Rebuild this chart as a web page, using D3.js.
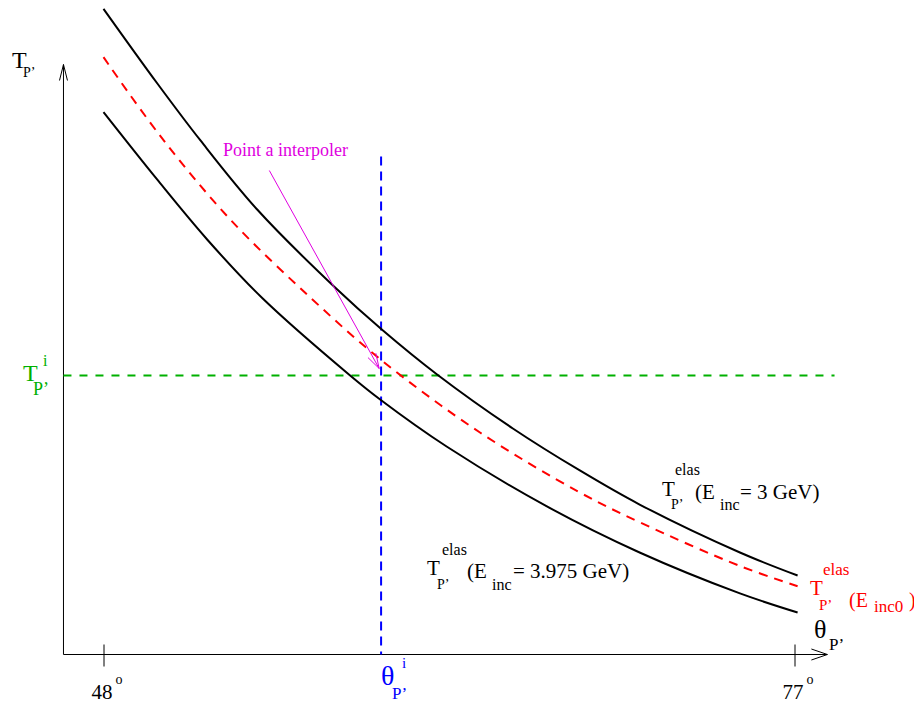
<!DOCTYPE html>
<html><head><meta charset="utf-8">
<script src="https://cdn.jsdelivr.net/npm/d3@7"></script>
<style>
html,body{margin:0;padding:0;background:#fff;}
svg{display:block;}
text{font-family:"Liberation Serif","Times New Roman",serif;}
</style>
</head><body>
<svg id="chart" width="914" height="705"></svg>
<script>
// ---------- data (theta in degrees, T in arbitrary units) ----------
const thetaTickValues = [48, 77];

// T_P'^elas (E_inc = 3 GeV) -- upper black curve
const thetaUpper = [48.00, 50.26, 52.07, 54.45, 57.72, 59.68, 62.00, 65.18, 67.99, 70.50, 74.71, 77.13];
const tUpper     = [109.44, 96.78, 87.12, 75.42, 62.20, 55.08, 47.46, 38.31, 31.19, 25.42, 17.29, 13.39];

// T_P'^elas (E_inc0) -- red dashed curve
const thetaMid = [48.00, 50.39, 53.32, 56.68, 59.68, 63.80, 67.99, 70.50, 74.71, 77.13];
const tMid     = [101.24, 87.85, 73.73, 60.51, 49.83, 37.63, 27.46, 22.42, 15.00, 11.58];

// T_P'^elas (E_inc = 3.975 GeV) -- lower black curve
const thetaLower = [48.00, 50.25, 52.35, 54.65, 58.35, 59.61, 62.40, 66.59, 70.50, 74.71, 77.13];
const tLower     = [91.92, 80.51, 70.34, 60.46, 47.29, 43.22, 35.25, 25.14, 17.29, 10.36, 7.12];

// interpolation point
const thetaI = 59.65;
const tI = 47.29;
const thetaIMaxT = 84.4;          // top of the vertical dashed line
const tIEndTheta = 78.68;         // right end of the horizontal dashed line

// axis extents
const axisTheta = [46.32, 78.38];
const axisT = [0, 100];

// annotation arrow ("Point a interpoler")
const arrowFrom = [54.96, 82.03];
const arrowTo   = [59.57, 48.47];

// ---------- drawing ----------
const svg = d3.select("#chart");
const x = d3.scaleLinear().domain([48, 77]).range([103.5, 794.5]);
const y = d3.scaleLinear().domain([0, 100]).range([654.5, 64.5]);

const line = d3.line().x(d => x(d[0])).y(d => y(d[1])).curve(d3.curveCatmullRom.alpha(0.5));
const zip = (a, b) => a.map((v, i) => [v, b[i]]);

// axes lines
const x0 = x(axisTheta[0]), x1 = x(axisTheta[1]);
const y0 = y(axisT[0]), y1 = y(axisT[1]);
const axisG = svg.append("g").attr("stroke", "#000").attr("stroke-width", 1).attr("fill", "none");
axisG.append("line").attr("x1", x0).attr("y1", y0).attr("x2", x1).attr("y2", y0);
axisG.append("line").attr("x1", x0).attr("y1", y0).attr("x2", x0).attr("y2", y1);
// open arrow heads
axisG.append("polyline").attr("points", [[x1 - 16, y0 - 5.5], [x1, y0], [x1 - 16, y0 + 5.5]].map(p => p.join(",")).join(" "));
axisG.append("polyline").attr("points", [[x0 - 4, y1 + 16], [x0, y1], [x0 + 4, y1 + 16]].map(p => p.join(",")).join(" "));

// x ticks via d3 axis
const xAxis = d3.axisBottom(x).tickValues(thetaTickValues).tickSizeOuter(0).tickSize(12);
const gx = svg.append("g").attr("transform", `translate(0,${y0})`).call(xAxis);
gx.select(".domain").remove();
gx.selectAll(".tick line").attr("y1", -10).attr("y2", 12).attr("stroke", "#000").attr("stroke-width", 1);
gx.selectAll(".tick text").each(function(d) {
  const t = d3.select(this);
  t.text(null).attr("y", 0).attr("dy", 0).attr("fill", "#000")
   .attr("font-family", '"Liberation Serif","Times New Roman",serif')
   .attr("text-anchor", "middle").attr("transform", "translate(3,44)");
  t.append("tspan").attr("font-size", 21).text(d);
  t.append("tspan").attr("font-size", 14).attr("dx", 3).attr("dy", -15).text("o");
});

// reference dashed lines
svg.append("line")
  .attr("x1", x0).attr("x2", x(tIEndTheta)).attr("y1", y(tI)).attr("y2", y(tI))
  .attr("stroke", "#00b000").attr("stroke-width", 2).attr("stroke-dasharray", "8,8");
svg.append("line")
  .attr("x1", x(thetaI)).attr("x2", x(thetaI)).attr("y1", y(thetaIMaxT)).attr("y2", y0)
  .attr("stroke", "#0000ff").attr("stroke-width", 2).attr("stroke-dasharray", "9,6");

// curves
svg.append("path").attr("d", line(zip(thetaUpper, tUpper)))
  .attr("fill", "none").attr("stroke", "#000").attr("stroke-width", 2);
svg.append("path").attr("d", line(zip(thetaLower, tLower)))
  .attr("fill", "none").attr("stroke", "#000").attr("stroke-width", 2);
svg.append("path").attr("d", line(zip(thetaMid, tMid)))
  .attr("fill", "none").attr("stroke", "#ff0000").attr("stroke-width", 2).attr("stroke-dasharray", "9,7");

// magenta annotation arrow
const ax0 = x(arrowFrom[0]), ay0 = y(arrowFrom[1]);
const ax1 = x(arrowTo[0]),   ay1 = y(arrowTo[1]);
const len = Math.hypot(ax1 - ax0, ay1 - ay0);
const ux = (ax1 - ax0) / len, uy = (ay1 - ay0) / len;
const px = -uy, py = ux;
const magenta = "#e000e0";
svg.append("line").attr("x1", ax0).attr("y1", ay0).attr("x2", ax1).attr("y2", ay1)
  .attr("stroke", magenta).attr("stroke-width", 1);
svg.append("polyline")
  .attr("points", [[ax1 - 15 * ux + 4.5 * px, ay1 - 15 * uy + 4.5 * py], [ax1, ay1], [ax1 - 15 * ux - 4.5 * px, ay1 - 15 * uy - 4.5 * py]].map(p => p.join(",")).join(" "))
  .attr("fill", "none").attr("stroke", magenta).attr("stroke-width", 1);

// ---------- text ----------
function txt(s, px, py, size, color) {
  svg.append("text").attr("x", px).attr("y", py).attr("font-size", size).attr("fill", color || "#000").text(s);
}
// y axis title
txt("T", 12, 68, 24);
txt("P\u2019", 23, 77, 14);
// T_P'^i (green)
txt("T", 23, 381, 24, "#00b000");
txt("i", 43, 366, 16, "#00b000");
txt("P\u2019", 33, 395, 18, "#00b000");
// theta_P'^i (blue)
txt("\u03b8", 381, 685, 28, "#0000ff");
txt("i", 402, 668, 15, "#0000ff");
txt("P\u2019", 392, 699, 17, "#0000ff");
// theta_P' axis title
txt("\u03b8", 814, 638, 26);
txt("P\u2019", 829, 650, 17);
// annotation
txt("Point a interpoler", 223, 156, 18, magenta);
// label 3 GeV
txt("elas", 675, 475, 16);
txt("T", 662, 496, 21);
txt("P\u2019", 671, 509, 14);
txt("(E", 695, 499, 21);
txt("inc", 720, 510, 16);
txt("= 3 GeV)", 740, 499, 21);
// label 3.975 GeV
txt("elas", 442, 555, 16);
txt("T", 427, 575, 21);
txt("P\u2019", 437, 589, 14);
txt("(E", 467, 578, 21);
txt("inc", 492, 590, 16);
txt("= 3.975 GeV)", 513, 578, 21);
// red label
const red = "#ff0000";
txt("elas", 823, 575, 17, red);
txt("T", 810, 595, 21, red);
txt("P\u2019", 819, 610, 15, red);
txt("(E", 849, 607, 20, red);
txt("inc0", 874, 612, 17, red);
txt(")", 909, 607, 20, red);
</script>
</body></html>
